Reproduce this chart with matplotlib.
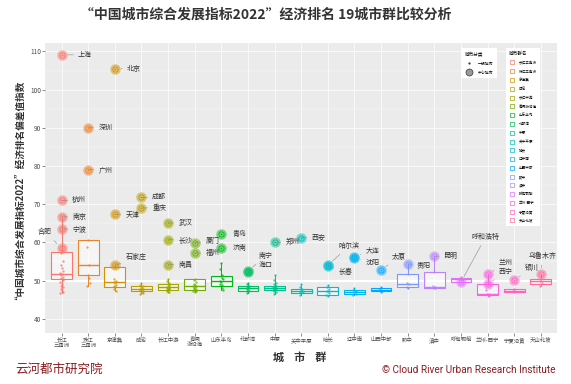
import numpy as np
import matplotlib
matplotlib.use("Agg")
import matplotlib.pyplot as plt
from matplotlib.lines import Line2D

plt.rcParams['font.family'] = ['Noto Sans CJK SC', 'DejaVu Sans']

clusters = ["长江\n三角洲", "珠江\n三角洲", "京津冀", "成渝", "长江中游", "粤闽\n浙沿海",
            "山东半岛", "北部湾", "中原", "关中平原", "哈长", "辽中南", "山西中部",
            "黔中", "滇中", "呼包鄂榆", "兰州-西宁", "宁夏沿黄", "天山北坡"]

# box stats: lower whisker, Q1, median, Q3, upper whisker
box_lo = [46.8, 48.5, 47.2, 46.5, 46.9, 47.0, 47.5, 46.8, 46.6, 46.3, 46.0, 46.3, 47.0, 48.0, 48.0, 49.5, 46.0, 46.9, 48.6]
box_q1 = [50.4, 51.4, 48.4, 47.2, 47.6, 47.6, 48.5, 47.2, 47.5, 46.8, 46.3, 46.6, 47.2, 48.4, 48.1, 49.6, 46.3, 46.9, 49.1]
box_med = [51.7, 54.0, 49.6, 47.8, 48.2, 48.5, 50.0, 48.0, 48.0, 47.3, 47.3, 47.1, 47.6, 49.1, 48.4, 50.3, 46.5, 47.3, 49.8]
box_q3 = [57.5, 60.5, 53.6, 48.5, 49.2, 50.3, 51.3, 48.7, 48.7, 47.9, 48.3, 47.6, 48.1, 51.8, 52.3, 50.7, 49.0, 47.9, 50.5]
box_hi = [66.7, 60.5, 54.0, 49.3, 50.5, 50.3, 54.6, 49.5, 51.5, 49.0, 48.8, 48.0, 48.3, 54.4, 56.4, 51.0, 51.6, 47.9, 51.6]

# other (non-central) cities per cluster
others = [
    [58.0, 57.2, 55.0, 54.0, 53.2, 52.5, 52.0, 51.7, 51.4, 51.0, 50.7, 50.4, 50.1, 49.6, 49.0, 48.6, 48.2, 47.8, 47.4, 47.0, 46.8],
    [60.5, 58.7, 54.0, 51.5, 50.6, 49.5, 48.5],
    [53.6, 50.5, 49.8, 49.6, 49.3, 48.9, 48.6, 48.3, 47.8, 47.2],
    [49.3, 48.8, 48.5, 48.2, 48.0, 47.9, 47.8, 47.6, 47.5, 47.3, 47.2, 47.0, 46.8, 46.5],
    [50.5, 49.8, 49.3, 49.0, 48.8, 48.5, 48.3, 48.2, 48.1, 48.0, 47.9, 47.8, 47.7, 47.6, 47.5, 47.3, 47.1, 46.9],
    [50.3, 50.1, 49.6, 49.2, 48.8, 48.6, 48.5, 48.3, 48.1, 47.9, 47.7, 47.6, 47.4, 47.2, 47.0],
    [54.6, 53.0, 51.5, 51.3, 50.8, 50.4, 50.0, 49.6, 49.2, 48.8, 48.5, 48.0, 47.5],
    [49.5, 49.0, 48.7, 48.4, 48.2, 48.0, 47.8, 47.5, 47.3, 47.2, 46.8],
    [51.5, 50.2, 49.5, 49.0, 48.7, 48.5, 48.3, 48.2, 48.1, 48.0, 47.9, 47.8, 47.7, 47.6, 47.5, 47.3, 47.0, 46.6],
    [49.0, 48.2, 47.9, 47.6, 47.3, 47.1, 46.9, 46.8, 46.3],
    [48.8, 48.3, 47.9, 47.4, 47.2, 46.8, 46.3, 46.0],
    [48.0, 47.6, 47.3, 47.1, 46.9, 46.6, 46.3],
    [48.3, 47.8, 47.4, 47.0],
    [51.8, 49.4, 49.0, 48.4, 48.0],
    [52.3, 48.6, 48.3, 48.1, 48.0],
    [51.0, 50.5, 50.2],
    [49.0, 47.5, 46.6, 46.4, 46.2, 46.0],
    [47.9, 47.4, 47.2, 46.9],
    [50.5, 49.9, 49.4, 48.6],
]

# central cities: cluster index, name, value
central_idx = [0, 0, 0, 0, 0, 1, 1, 2, 2, 2, 3, 3, 4, 4, 4, 5, 5, 6, 6, 7, 7, 8, 9,
               10, 10, 11, 11, 12, 13, 14, 15, 16, 16, 17, 18]
central_name = ["上海", "杭州", "南京", "宁波", "合肥", "深圳", "广州", "北京", "天津", "石家庄",
                "成都", "重庆", "武汉", "长沙", "南昌", "厦门", "福州", "青岛", "济南", "南宁", "海口",
                "郑州", "西安", "哈尔滨", "长春", "大连", "沈阳", "太原", "贵阳", "昆明", "呼和浩特",
                "兰州", "西宁", "银川", "乌鲁木齐"]
central_val = [109.1, 71.0, 66.7, 63.5, 58.6, 90.0, 79.0, 105.5, 67.4, 54.0,
               71.8, 69.0, 65.1, 60.7, 54.2, 59.9, 57.2, 62.2, 58.6, 52.5, 52.3,
               60.0, 61.2, 54.0, 53.8, 56.3, 55.9, 52.7, 54.4, 56.4, 49.6,
               51.6, 49.1, 50.1, 51.6]

# label placement (layout only): text anchor position in data coords
label_pos = {
    "上海": (0.62, 109.1), "杭州": (0.40, 71.0), "南京": (0.40, 66.7), "宁波": (0.40, 63.5),
    "合肥": (-0.36, 62.6), "深圳": (1.38, 90.0), "广州": (1.38, 79.0), "北京": (2.46, 105.5),
    "天津": (2.40, 67.3), "石家庄": (2.40, 55.8), "成都": (3.40, 71.8), "重庆": (3.40, 69.1),
    "武汉": (4.38, 65.1), "长沙": (4.38, 60.7), "南昌": (4.38, 54.2), "厦门": (5.40, 60.3),
    "福州": (5.40, 57.3), "青岛": (6.42, 62.2), "济南": (6.42, 58.6), "南宁": (7.40, 56.4),
    "海口": (7.40, 54.1), "郑州": (8.40, 60.0), "西安": (9.38, 61.3), "哈尔滨": (10.40, 59.0),
    "长春": (10.40, 52.2), "大连": (11.42, 57.9), "沈阳": (11.42, 54.6), "太原": (12.40, 56.2),
    "贵阳": (13.34, 53.9), "昆明": (14.35, 56.4), "呼和浩特": (15.40, 61.4), "兰州": (16.42, 54.6),
    "西宁": (16.42, 52.2), "银川": (17.40, 53.3), "乌鲁木齐": (17.55, 56.4),
}


def hue_color(h, c=100.0, l=65.0):
    # ggplot2 hue palette (polar Luv -> sRGB)
    hr = np.deg2rad(h)
    u, v = c * np.cos(hr), c * np.sin(hr)
    xn, yn, zn = 95.047, 100.0, 108.883
    un = 4 * xn / (xn + 15 * yn + 3 * zn)
    vn = 9 * yn / (xn + 15 * yn + 3 * zn)
    y = yn * ((l + 16) / 116) ** 3
    up = u / (13 * l) + un
    vp = v / (13 * l) + vn
    x = y * 9 * up / (4 * vp)
    z = y * (12 - 3 * up - 20 * vp) / (4 * vp)
    xyz = np.array([x, y, z]) / 100
    m = np.array([[3.2406, -1.5372, -0.4986], [-0.9689, 1.8758, 0.0415], [0.0557, -0.2040, 1.0570]])
    rgb = m @ xyz
    rgb = np.where(rgb <= 0.0031308, 12.92 * rgb, 1.055 * np.clip(rgb, 0, None) ** (1 / 2.4) - 0.055)
    return tuple(np.clip(rgb, 0, 1))


n = len(clusters)
hues = np.linspace(15, 375, n + 1)[:n]
colors = [hue_color(h) for h in hues]

fig = plt.figure(figsize=(5.71, 3.84), dpi=100)
ax = fig.add_axes([0.079, 0.133, 0.897, 0.755])
ax.set_facecolor('#EBEBEB')
ax.set_xlim(-0.62, n - 0.38)
ax.set_ylim(36.3, 112.2)
ax.set_yticks([40, 50, 60, 70, 80, 90, 100, 110])
ax.set_yticks([45, 55, 65, 75, 85, 95, 105], minor=True)
ax.set_xticks(range(n))
ax.set_xticklabels(clusters, fontsize=3.9, color='#4D4D4D', linespacing=1.1)
ax.tick_params(axis='y', labelsize=4.6, labelcolor='#4D4D4D', length=2, width=0.4, color='#333333', pad=1)
ax.tick_params(axis='x', length=2, width=0.4, color='#333333', pad=1)
ax.tick_params(which='minor', length=0)
ax.grid(True, which='major', color='white', lw=0.5)
ax.grid(True, which='minor', axis='y', color='white', lw=0.25)
ax.set_axisbelow(True)
for s in ax.spines.values():
    s.set_visible(False)
ax.axhline(50, color='white', lw=1.6, zorder=0.5)

stats = []
for i in range(n):
    stats.append(dict(whislo=box_lo[i], q1=box_q1[i], med=box_med[i], q3=box_q3[i],
                      whishi=box_hi[i], fliers=[]))
bp = ax.bxp(stats, positions=range(n), widths=0.78, patch_artist=True, showcaps=False,
            showfliers=False, manage_ticks=False)
for i in range(n):
    bp['boxes'][i].set(facecolor=(1, 1, 1, 0.55), edgecolor=colors[i], lw=0.8, zorder=2)
    bp['medians'][i].set(color=colors[i], lw=1.0, zorder=2.1)
    for w in bp['whiskers'][2 * i:2 * i + 2]:
        w.set(color=colors[i], lw=0.7, zorder=2)

offs = [0.0, -0.04, 0.04, -0.02, 0.02, 0.05, -0.05]
for i in range(n):
    xs = [i + offs[k % len(offs)] for k in range(len(others[i]))]
    ax.plot(xs, others[i], 'o', ms=1.7, color=colors[i], alpha=0.75, mew=0, zorder=3)

for ci, name, val in zip(central_idx, central_name, central_val):
    col = colors[ci]
    ax.plot(ci, val, 'o', ms=7.5, color=col, alpha=0.5, mew=0, zorder=4)
    ax.plot(ci, val, 'o', ms=3.8, mfc='none', mec=col, mew=0.6, zorder=4.1)
    ax.plot(ci, val, 'o', ms=1.2, color=col, mew=0, zorder=4.2)
    tx, ty = label_pos[name]
    ha = 'right' if tx < ci else 'left'
    if name == "乌鲁木齐":
        ha = 'left'
    ax.annotate(name, xy=(ci, val), xytext=(tx, ty), fontsize=5, color='#333333',
                ha=ha, va='center', zorder=5,
                arrowprops=dict(arrowstyle='-', color='#888888', lw=0.4,
                                shrinkA=1.5, shrinkB=4.5))

# legends
h1 = [Line2D([], [], ls='none', marker='o', ms=1.6, color='#333333', mew=0),
      Line2D([], [], ls='none', marker='o', ms=5, color='#999999', mec='#333333', mew=0.5)]
leg1 = ax.legend(h1, ["一般城市", "中心城市"], title="城市分类", loc='upper left',
                 bbox_to_anchor=(0.808, 0.99), fontsize=2.8, title_fontsize=3.3,
                 frameon=True, facecolor='white', edgecolor='none', framealpha=1,
                 borderpad=0.9, labelspacing=1.3, handletextpad=1.2, handlelength=2.2,
                 alignment='left', fancybox=False)
ax.add_artist(leg1)
h2 = [Line2D([], [], ls='none', marker='s', ms=3.2, mfc='white', mec=colors[i], mew=0.5)
      for i in range(n)]
leg2 = ax.legend(h2, [c.replace("\n", "") for c in clusters], title="城市群名", loc='upper left',
                 bbox_to_anchor=(0.896, 0.99), fontsize=2.6, title_fontsize=3.3,
                 frameon=True, facecolor='white', edgecolor='none', framealpha=1,
                 borderpad=0.9, labelspacing=1.32, handletextpad=1.0, handlelength=1.6,
                 alignment='left', fancybox=False)

fig.text(0.465, 0.962, "“中国城市综合发展指标2022”经济排名 19城市群比较分析", ha='center', va='center',
         fontsize=10, fontweight='bold', color='#333333')
fig.text(0.027, 0.51, "“中国城市综合发展指标2022”经济排名偏差值指数", rotation=90, ha='center',
         va='center', fontsize=6.9, fontweight='bold', color='#333333')
fig.text(0.525, 0.07, "城    市    群", ha='center', va='center', fontsize=8, fontweight='bold',
         color='#333333')
fig.text(0.026, 0.037, "云河都市研究院", ha='left', va='center', fontsize=9, color='#8C1B20')
fig.text(0.972, 0.037, "© Cloud River Urban Research Institute", ha='right', va='center',
         fontsize=7.2, color='#8C1B20', family=['Liberation Sans Narrow', 'Roboto', 'DejaVu Sans'])

fig.savefig("out.png", dpi=100)
